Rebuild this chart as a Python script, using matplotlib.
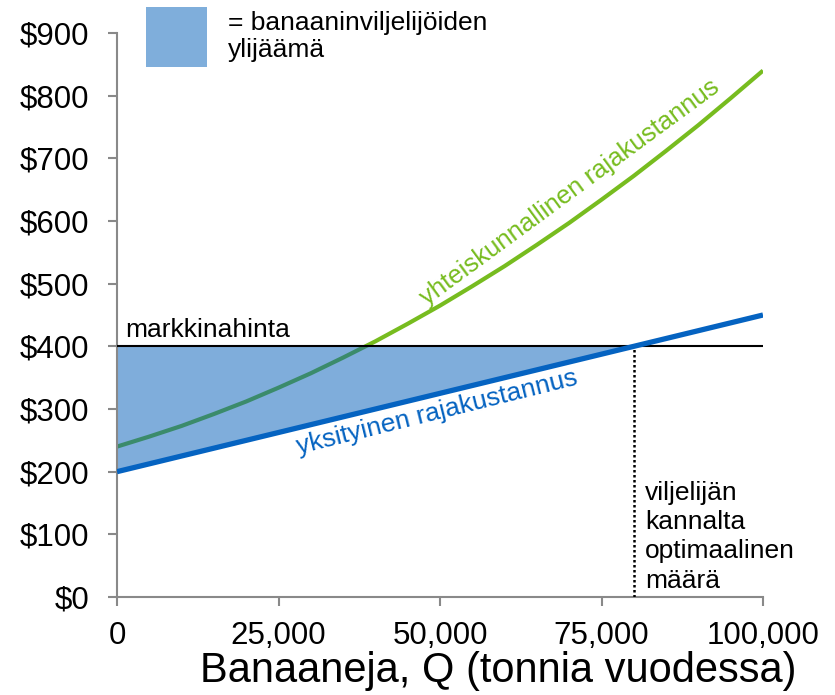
import numpy as np
import matplotlib
matplotlib.use("Agg")
from matplotlib import pyplot as plt
from matplotlib.patches import Rectangle

# values
q_social = [0, 5000, 10000, 15000, 20000, 25000, 30000, 35000, 40000, 45000, 50000,
            55000, 60000, 65000, 70000, 75000, 80000, 85000, 90000, 95000, 100000]
mc_social = [240, 256, 273, 292, 312, 334, 357, 382, 408, 436, 465,
             496, 528, 562, 597, 634, 672, 712, 753, 796, 840]
q_private = [0, 100000]
mc_private = [200, 450]
price = 400
q_opt = 80000
q_ticks = [0, 25000, 50000, 75000, 100000]
q_ticklabels = ["0", "25,000", "50,000", "75,000", "100,000"]
p_ticks = [0, 100, 200, 300, 400, 500, 600, 700, 800, 900]
p_ticklabels = ["$" + str(p) for p in p_ticks]

plt.rcParams['font.family'] = ['Liberation Sans', 'DejaVu Sans']

W, H = 835, 695
fig = plt.figure(figsize=(W / 100, H / 100), dpi=100)
ax = fig.add_axes([117 / W, 1 - 597 / H, 646 / W, 564 / H])

green = '#77BC1F'
blue = '#0563C1'
grey = '#898989'

ax.plot(q_social, mc_social, color=green, lw=3, zorder=1, solid_capstyle='butt',
        solid_joinstyle='round')

# surplus: between price and private MC up to the optimum
fill_q = [q_private[0], q_opt]
fill_mc = np.interp(fill_q, q_private, mc_private)
ax.fill_between(fill_q, fill_mc, price, color='#005CB8', alpha=0.5, lw=0, zorder=2)

ax.plot([q_private[0], q_private[-1]], [price, price], color='black', lw=1.5, zorder=3)
ax.plot(q_private, mc_private, color=blue, lw=3.8, zorder=4, solid_capstyle='butt')
ax.plot([q_opt, q_opt], [0, price], color='black', lw=1.8, ls=(0, (1, 1)), zorder=3)

ax.set_xlim(0, 100000)
ax.set_ylim(0, 900)
ax.set_xticks(q_ticks)
ax.set_xticklabels(q_ticklabels)
ax.set_yticks(p_ticks)
ax.set_yticklabels(p_ticklabels)
ax.tick_params(axis='both', colors=grey, labelcolor='black', labelsize=22.5,
               length=6.5, width=1.5, direction='out')
ax.tick_params(axis='x', pad=11)
ax.tick_params(axis='y', pad=13.5)
for s in ['top', 'right']:
    ax.spines[s].set_visible(False)
for s in ['left', 'bottom']:
    ax.spines[s].set_color(grey)
    ax.spines[s].set_linewidth(1.5)

ax.text(1200, 415, "markkinahinta", fontsize=19, va='baseline', ha='left')
ax.text(49500, 295, "yksityinen rajakustannus", fontsize=19, color=blue,
        rotation=14, rotation_mode='anchor', ha='center', va='center')
ax.text(70100, 646, "yhteiskunnallinen rajakustannus", fontsize=18.5, color=green,
        rotation=36.3, rotation_mode='anchor', ha='center', va='center')
ax.text(81700, 15, "viljelijän\nkannalta\noptimaalinen\nmäärä", fontsize=19,
        va='baseline', ha='left', linespacing=1.28)

# legend box
fig.patches.append(Rectangle((146 / W, 1 - 67 / H), 61 / W, 60 / H,
                             transform=fig.transFigure, color='#7FAEDB', lw=0))
# baseline of a multi-line text is the last line
fig.text(228 / W, 1 - 57 / H, "= banaaninviljelijöiden\nylijäämä", fontsize=19,
         va='baseline', ha='left', linespacing=1.17)

fig.text(797 / W, 1 - 682 / H, "Banaaneja, Q (tonnia vuodessa)", fontsize=30,
         ha='right', va='baseline')

fig.savefig("out.png", dpi=100)
